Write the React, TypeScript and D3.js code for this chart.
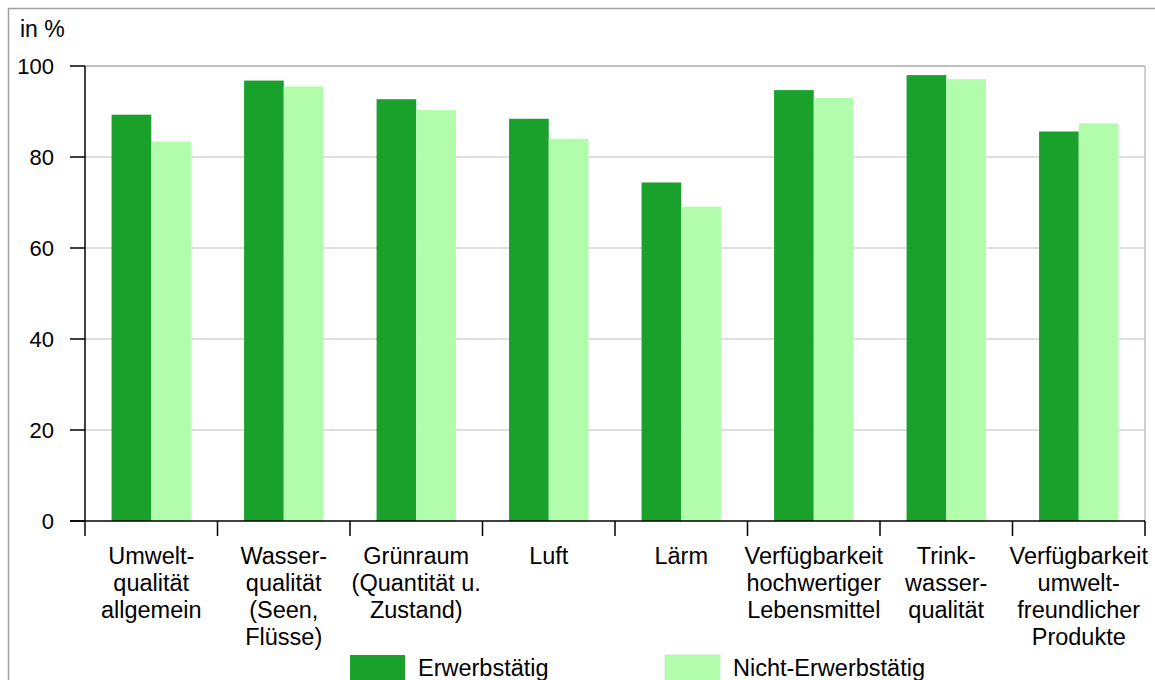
import React from 'react'
import * as d3 from 'd3'

const categories = [
  ['Umwelt-', 'qualität', 'allgemein'],
  ['Wasser-', 'qualität', '(Seen,', 'Flüsse)'],
  ['Grünraum', '(Quantität u.', 'Zustand)'],
  ['Luft'],
  ['Lärm'],
  ['Verfügbarkeit', 'hochwertiger', 'Lebensmittel'],
  ['Trink-', 'wasser-', 'qualität'],
  ['Verfügbarkeit', 'umwelt-', 'freundlicher', 'Produkte'],
]
const erwerbstaetig = [89.3, 96.8, 92.7, 88.4, 74.4, 94.7, 98.0, 85.6]
const nichtErwerbstaetig = [83.4, 95.5, 90.3, 84.0, 69.1, 93.0, 97.1, 87.4]
const yTicks = [0, 20, 40, 60, 80, 100]
const seriesNames = ['Erwerbstätig', 'Nicht-Erwerbstätig']
const colors = ['#1aa12b', '#b1fdab']

const W = 1155
const H = 680
const left = 85
const right = 1145
const top = 66
const bottom = 521
const font = 'Liberation Sans, Arial, sans-serif'

export default function App() {
  const x = d3.scaleBand<number>()
    .domain(d3.range(categories.length))
    .range([left, right])
  const inner = d3.scaleBand<number>()
    .domain([0, 1])
    .range([0, x.bandwidth()])
    .paddingInner(0)
    .paddingOuter(0.67)
  const y = d3.scaleLinear().domain([0, 100]).range([bottom, top])
  const series = [erwerbstaetig, nichtErwerbstaetig]

  return (
    <svg width={W} height={H} style={{ position: 'absolute', left: 0, top: 0, background: '#fff' }}>
      <rect x={8.5} y={8.5} width={W + 10} height={H + 10} fill="none" stroke="#a0a0a0" strokeWidth={1.5} />
      <text x={20} y={37} fontFamily={font} fontSize={23}>in %</text>

      {yTicks.filter(t => t > 0 && t < 100).map(t => (
        <line key={'g' + t} x1={left} x2={right} y1={y(t)} y2={y(t)} stroke="#d4d4d4" strokeWidth={1.5} />
      ))}
      <line x1={left} x2={right} y1={top} y2={top} stroke="#a8a8a8" strokeWidth={1.5} />
      <line x1={right} x2={right} y1={top} y2={bottom} stroke="#c0c0c0" strokeWidth={1.5} />

      {series.map((vals, s) =>
        vals.map((v, i) => (
          <rect key={s + '-' + i}
            x={(x(i) as number) + (inner(s) as number)}
            y={y(v)}
            width={inner.bandwidth()}
            height={bottom - y(v)}
            fill={colors[s]} />
        ))
      )}

      <line x1={left} x2={left} y1={top} y2={bottom} stroke="#000" strokeWidth={1.5} />
      <line x1={left - 15} x2={right} y1={bottom} y2={bottom} stroke="#000" strokeWidth={1.5} />
      {yTicks.map(t => (
        <g key={'t' + t}>
          <line x1={left - 15} x2={left} y1={y(t)} y2={y(t)} stroke="#000" strokeWidth={1.5} />
          <text x={54} y={y(t) + 8} textAnchor="end" fontFamily={font} fontSize={22}>{t}</text>
        </g>
      ))}
      {d3.range(categories.length + 1).map(i => {
        const px = i < categories.length ? (x(i) as number) : right
        return <line key={'xt' + i} x1={px} x2={px} y1={bottom} y2={bottom + 15} stroke="#000" strokeWidth={1.5} />
      })}
      {categories.map((lines, i) => (
        <text key={'c' + i} textAnchor="middle" fontFamily={font} fontSize={23.5}
          x={(x(i) as number) + x.bandwidth() / 2}>
          {lines.map((ln, j) => (
            <tspan key={j} x={(x(i) as number) + x.bandwidth() / 2} y={564 + j * 27}>{ln}</tspan>
          ))}
        </text>
      ))}

      {seriesNames.map((name, s) => (
        <g key={'l' + s} transform={`translate(${350 + s * 315},655)`}>
          <rect width={55} height={26} fill={colors[s]} stroke={s === 1 ? '#cfe9cb' : 'none'} />
          <text x={68} y={21} fontFamily={font} fontSize={23.5}>{name}</text>
        </g>
      ))}
    </svg>
  )
}
